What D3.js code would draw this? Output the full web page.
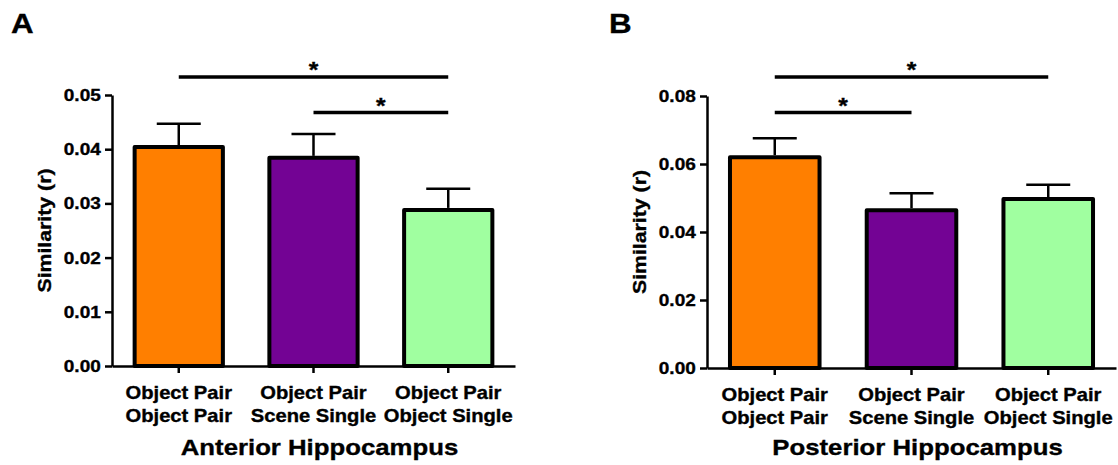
<!DOCTYPE html>
<html>
  <head>
    <meta charset="utf-8">
    <title>Hippocampus similarity</title>
    <script src="https://d3js.org/d3.v7.min.js"></script>
    <style>
      body { margin: 0; background: #fff; }
      text { font-family: "Liberation Sans", Arial, sans-serif; font-weight: bold; fill: #000; stroke: #000; stroke-width: 0.35px; }
    </style>
  </head>
  <body>
    <script>

      // categories (two-line labels)
      var categories = [
        ["Object Pair", "Object Pair"],
        ["Object Pair", "Scene Single"],
        ["Object Pair", "Object Single"]
      ];
      var colors = ["#ff7f00", "#730394", "#a0ffa0"];

      // Anterior hippocampus
      var anteriorMean = [0.0404, 0.0384, 0.0288];
      var anteriorSem  = [0.0043, 0.0044, 0.0039];
      var anteriorTicks = [0.00, 0.01, 0.02, 0.03, 0.04, 0.05];
      var anteriorSig = [[0, 2, 0], [1, 2, 1]]; // from, to, level

      // Posterior hippocampus
      var posteriorMean = [0.0620, 0.0464, 0.0497];
      var posteriorSem  = [0.0056, 0.0050, 0.0042];
      var posteriorTicks = [0.00, 0.02, 0.04, 0.06, 0.08];
      var posteriorSig = [[0, 2, 0], [0, 1, 1]];

      var stretch = 1.12; // the original font is set a bit wide

      var svg = d3.select("body").append("svg")
        .attr("width", 1118)
        .attr("height", 465);

      function label(g, x, y, str, size, anchor, rot) {
        return g.append("text")
          .attr("transform", "translate(" + x + "," + y + ")" + (rot ? " rotate(" + rot + ")" : "") + " scale(" + stretch + ",1)")
          .attr("text-anchor", anchor || "middle")
          .style("font-size", size + "px")
          .text(str);
      }

      function panel(opt) {
        var g = svg.append("g");

        var x = d3.scaleBand()
          .domain(d3.range(categories.length))
          .range([opt.left, opt.right])
          .paddingInner(0.345)
          .paddingOuter(0.168);

        var y = d3.scaleLinear()
          .domain([0, opt.ticks[opt.ticks.length - 1]])
          .range([opt.bottom, opt.top]);

        // panel letter
        label(g, opt.letterX, 33, opt.letter, 28, "start");

        // bars
        g.selectAll("rect.bar").data(opt.mean).enter().append("rect")
          .attr("class", "bar")
          .attr("x", function(d, i) { return x(i); })
          .attr("width", x.bandwidth())
          .attr("y", function(d) { return y(d); })
          .attr("height", function(d) { return y(0) - y(d); })
          .attr("fill", function(d, i) { return colors[i]; })
          .attr("stroke", "#000")
          .attr("stroke-width", 4)
          .attr("stroke-linejoin", "round");

        // error bars (upper only)
        var cx = function(i) { return x(i) + x.bandwidth() / 2; };
        var err = g.selectAll("g.err").data(opt.mean).enter().append("g")
          .attr("class", "err");
        err.append("line")
          .attr("x1", function(d, i) { return cx(i); })
          .attr("x2", function(d, i) { return cx(i); })
          .attr("y1", function(d) { return y(d) - 2; })
          .attr("y2", function(d, i) { return y(d + opt.sem[i]); })
          .attr("stroke", "#000").attr("stroke-width", 2.5);
        err.append("line")
          .attr("x1", function(d, i) { return cx(i) - 22; })
          .attr("x2", function(d, i) { return cx(i) + 22; })
          .attr("y1", function(d, i) { return y(d + opt.sem[i]); })
          .attr("y2", function(d, i) { return y(d + opt.sem[i]); })
          .attr("stroke", "#000").attr("stroke-width", 2.5);

        // y axis
        var yAxis = d3.axisLeft(y)
          .tickValues(opt.ticks)
          .tickFormat(d3.format(".2f"))
          .tickSize(7)
          .tickSizeOuter(0)
          .tickPadding(3);
        var ya = g.append("g")
          .attr("transform", "translate(" + opt.left + ",0)")
          .call(yAxis);
        ya.attr("font-family", null).attr("font-size", null);
        ya.select(".domain").attr("stroke-width", 2.5);
        ya.selectAll(".tick line").attr("stroke-width", 2.5);
        ya.selectAll(".tick text")
          .style("font-size", "17px")
          .attr("fill", "#000")
          .attr("transform", "scale(" + stretch + ",1)");

        // x axis
        var xAxis = d3.axisBottom(x)
          .tickSize(7)
          .tickSizeOuter(0)
          .tickFormat("");
        var xa = g.append("g")
          .attr("transform", "translate(0," + opt.bottom + ")")
          .call(xAxis);
        xa.select(".domain").attr("stroke-width", 2.5);
        xa.selectAll(".tick line").attr("stroke-width", 2.5);

        // category labels
        categories.forEach(function(c, i) {
          c.forEach(function(s, k) {
            label(g, cx(i), opt.bottom + 33 + k * 22.5, s, 18);
          });
        });

        // x title
        label(g, (opt.left + opt.right) / 2 + 6, 455, opt.title, 23);

        // y title
        label(g, opt.left - 61, (opt.top + opt.bottom) / 2, "Similarity (r)", 19, "middle", -90);

        // significance bars
        var sigY = [77, 112.5];
        opt.sig.forEach(function(s) {
          var x1 = cx(s[0]), x2 = cx(s[1]), yy = sigY[s[2]];
          g.append("line")
            .attr("x1", x1).attr("x2", x2)
            .attr("y1", yy).attr("y2", yy)
            .attr("stroke", "#000").attr("stroke-width", 3.5);
          label(g, (x1 + x2) / 2, yy, "*", 22);
        });
      }

      panel({
        letter: "A", letterX: 11,
        left: 112, right: 515, top: 95, bottom: 366,
        mean: anteriorMean, sem: anteriorSem, ticks: anteriorTicks,
        sig: anteriorSig, title: "Anterior Hippocampus"
      });

      panel({
        letter: "B", letterX: 609,
        left: 707, right: 1116, top: 96, bottom: 368,
        mean: posteriorMean, sem: posteriorSem, ticks: posteriorTicks,
        sig: posteriorSig, title: "Posterior Hippocampus"
      });

    </script>
  </body>
</html>
